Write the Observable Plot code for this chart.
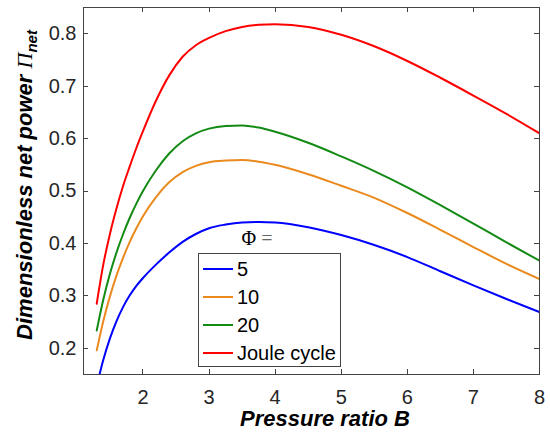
<!DOCTYPE html>
<html><head><meta charset="utf-8">
<script src="https://cdn.jsdelivr.net/npm/d3@7"></script>
<script src="https://cdn.jsdelivr.net/npm/@observablehq/plot@0.6"></script>
<style>body{margin:0;background:#fff} svg{display:block}</style>
</head><body><div id="chart"></div>
<script>
// Pressure ratio B
const B = [1.3, 1.4, 1.5, 1.6, 1.7, 1.8, 1.9, 2.0, 2.2, 2.4, 2.6, 2.8, 3.0, 3.25, 3.5, 3.75, 4.0, 4.5, 5.0, 5.5, 6.0, 6.5, 7.0, 7.5, 8.0];
// Dimensionless net power for each series
const phi5  = [0.128, 0.178, 0.219, 0.252, 0.279, 0.301, 0.319, 0.334, 0.360, 0.383, 0.403, 0.418, 0.429, 0.436, 0.440, 0.441, 0.440, 0.431, 0.416, 0.397, 0.374, 0.347, 0.320, 0.294, 0.269];
const phi10 = [0.196, 0.252, 0.299, 0.339, 0.373, 0.403, 0.429, 0.452, 0.489, 0.517, 0.536, 0.548, 0.555, 0.558, 0.559, 0.556, 0.550, 0.532, 0.510, 0.487, 0.458, 0.426, 0.393, 0.361, 0.332];
const phi20 = [0.234, 0.293, 0.342, 0.383, 0.418, 0.449, 0.476, 0.500, 0.540, 0.572, 0.595, 0.610, 0.619, 0.624, 0.625, 0.621, 0.613, 0.592, 0.566, 0.538, 0.507, 0.473, 0.438, 0.402, 0.367];
const joule = [0.285, 0.360, 0.418, 0.467, 0.510, 0.547, 0.582, 0.614, 0.673, 0.721, 0.756, 0.778, 0.792, 0.805, 0.813, 0.817, 0.818, 0.813, 0.798, 0.776, 0.748, 0.716, 0.682, 0.647, 0.610];
const seriesNames = ["5", "10", "20", "Joule cycle"];
const seriesColors = ["#0000ff", "#ea8a1e", "#138a13", "#ff0000"];
const xTicks = [2, 3, 4, 5, 6, 7, 8];
const yTicks = [0.2, 0.3, 0.4, 0.5, 0.6, 0.7, 0.8];

const seriesValues = [phi5, phi10, phi20, joule];
const rows = [];
seriesValues.forEach((vals, i) => B.forEach((b, j) => rows.push({B: b, v: vals[j], s: seriesNames[i]})));

const ink = "#262626";
const chart = Plot.plot({
  width: 550, height: 433,
  marginLeft: 83, marginRight: 11, marginTop: 7, marginBottom: 59,
  style: {fontFamily: "Liberation Sans, Arial, sans-serif", fontSize: "20px", color: ink, background: "#fff", overflow: "visible"},
  x: {domain: [1.1, 8]},
  y: {domain: [0.15, 0.85]},
  color: {domain: seriesNames, range: seriesColors},
  marks: [
    Plot.line(rows, {x: "B", y: "v", z: "s", stroke: "s", strokeWidth: 2, curve: "monotone-x", clip: true}),
    Plot.axisX(xTicks, {anchor: "bottom", tickSize: 0, tickPadding: 15, label: null, fontSize: 20}),
    Plot.axisY(yTicks, {anchor: "left", tickSize: 0, tickPadding: 7, tickFormat: d3.format(".1f"), label: null, fontSize: 20}),
    Plot.frame({stroke: "#444", strokeWidth: 1})
  ]
});
document.getElementById("chart").appendChild(chart);

const svg = d3.select(chart);
const sx = chart.scale("x"), sy = chart.scale("y");
const [xl, xr] = sx.range, [yb, yt] = sy.range;
const tk = 5;
const tg = svg.append("g").attr("stroke", "#444").attr("stroke-width", 1);
xTicks.forEach(t => {
  const x = Math.round(sx.apply(t)) + 0.5;
  tg.append("line").attr("x1", x).attr("x2", x).attr("y1", yb).attr("y2", yb - tk);
  tg.append("line").attr("x1", x).attr("x2", x).attr("y1", yt).attr("y2", yt + tk);
});
yTicks.forEach(t => {
  const y = Math.round(sy.apply(t)) + 0.5;
  tg.append("line").attr("y1", y).attr("y2", y).attr("x1", xl).attr("x2", xl + tk);
  tg.append("line").attr("y1", y).attr("y2", y).attr("x1", xr).attr("x2", xr - tk);
});

// x-axis label
svg.append("text")
  .attr("x", 325).attr("y", 426)
  .attr("text-anchor", "middle")
  .attr("font-family", "Liberation Sans, Arial, sans-serif")
  .attr("font-size", 22).attr("font-weight", "bold").attr("font-style", "italic")
  .attr("fill", "#000")
  .text("Pressure ratio B");
// y-axis label
const yl = svg.append("text")
  .attr("transform", "translate(32,185) rotate(-90)")
  .attr("text-anchor", "middle")
  .attr("font-family", "Liberation Sans, Arial, sans-serif")
  .attr("font-size", 22).attr("font-weight", "bold").attr("font-style", "italic")
  .attr("fill", "#000");
yl.append("tspan").text("Dimensionless net power ");
yl.append("tspan").attr("font-family", "Liberation Serif, Times New Roman, serif").attr("font-weight", "normal").text("Π");
yl.append("tspan").attr("font-size", 15).attr("dy", 5).text("net");

// legend
const lg = svg.append("g").attr("text-anchor", "start");
const ttl = lg.append("text").attr("x", 257).attr("y", 238).attr("dy", "0.35em").attr("text-anchor", "middle")
  .attr("font-family", "Liberation Serif, Times New Roman, serif").attr("font-size", 20);
ttl.append("tspan").attr("fill", "#000").text("Φ");
ttl.append("tspan").attr("fill", "#666").text(" =");
lg.append("rect").attr("x", 198.5).attr("y", 253.5).attr("width", 142).attr("height", 113)
  .attr("fill", "#fff").attr("stroke", "#444").attr("stroke-width", 1);
for (let i = 0; i < seriesNames.length; i++) {
  const y = 269 + i * 28;
  lg.append("line").attr("x1", 203).attr("x2", 233).attr("y1", y).attr("y2", y)
    .attr("stroke", seriesColors[i]).attr("stroke-width", 2);
}
for (let i = 0; i < seriesNames.length; i++) {
  const y = 269 + i * 28;
  lg.append("text").attr("x", 237).attr("y", y).attr("dy", "0.35em").attr("text-anchor", "start")
    .attr("font-family", "Liberation Sans, Arial, sans-serif").attr("font-size", 20).attr("fill", "#000")
    .text(seriesNames[i]);
}
</script>
</body></html>
